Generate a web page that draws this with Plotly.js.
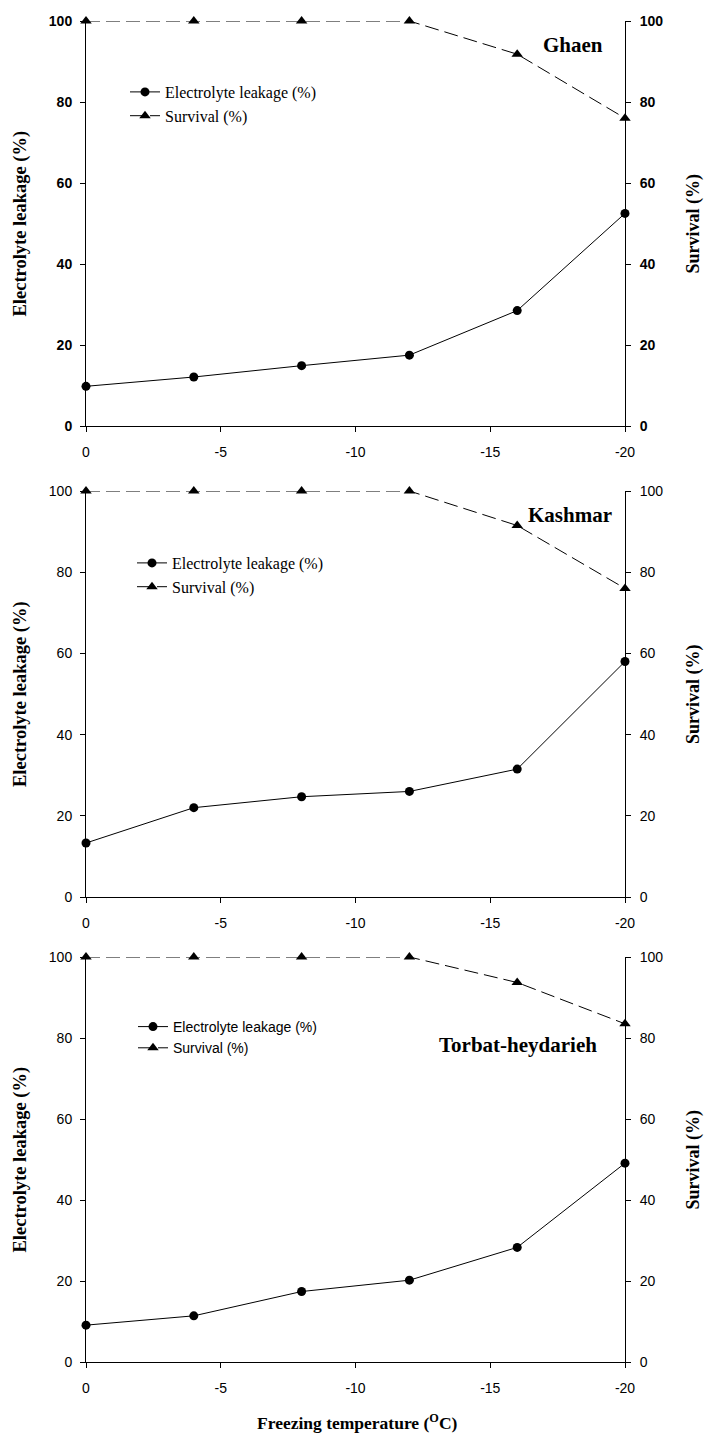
<!DOCTYPE html>
<html><head><meta charset="utf-8">
<script src="https://cdn.plot.ly/plotly-3.0.1.min.js"></script>
<style>body{margin:0;background:#fff}#c{width:704px;height:1439px}</style>
</head><body><div id="c"></div>
<script>
const temps = [0, -4, -8, -12, -16, -20];
const xTickVals = [0, -5, -10, -15, -20];
const xTickText = ["0", "-5", "-10", "-15", "-20"];
const sites = ["Ghaen", "Kashmar", "Torbat-heydarieh"];
const leakGhaen = [9.8, 12.1, 14.9, 17.5, 28.5, 52.5];
const survGhaen = [100, 100, 100, 100, 91.8, 76];
const leakKashmar = [13.3, 22, 24.7, 26, 31.5, 58];
const survKashmar = [100, 100, 100, 100, 91.5, 76];
const leakTorbat = [9.1, 11.4, 17.4, 20.2, 28.3, 49.1];
const survTorbat = [100, 100, 100, 100, 93.7, 83.5];
const leakName = "Electrolyte leakage (%)";
const survName = "Survival (%)";

const H = 1439, W = 704;
const SERIF = "Liberation Serif, Times New Roman, serif";
const SANS = "Liberation Sans, Arial, sans-serif";
const panels = [
  {leak: leakGhaen, surv: survGhaen, top: 21, bot: 426, bold: true, leg: {x: 125, y: 75, font: SERIF, size: 16}, lab: {x: 573, y: 45}},
  {leak: leakKashmar, surv: survKashmar, top: 491, bot: 897, bold: false, leg: {x: 132, y: 546, font: SERIF, size: 16}, lab: {x: 570, y: 515}},
  {leak: leakTorbat, surv: survTorbat, top: 957, bot: 1362, bold: false, leg: {x: 133, y: 1011, font: SANS, size: 14}, lab: {x: 518, y: 1045}}
];
const xd = [86 / W, 625 / W];
const traces = [];
const layout = {
  width: W, height: H, margin: {l: 0, r: 0, t: 0, b: 0},
  paper_bgcolor: "#fff", plot_bgcolor: "#fff", showlegend: true,
  annotations: [], font: {family: SANS, color: "#000"}
};
panels.forEach((p, i) => {
  const n = i === 0 ? "" : String(2 * i + 1);
  const n2 = String(2 * i + 2);
  const xn = i === 0 ? "" : String(i + 1);
  const legKey = i === 0 ? "legend" : "legend" + (i + 1);
  const dom = [1 - p.bot / H, 1 - p.top / H];
  const tf = {family: SANS, size: 14, color: "#000", weight: p.bold ? "bold" : "normal"};
  traces.push({x: temps, y: p.leak, name: leakName, type: "scatter", mode: "lines+markers",
    xaxis: "x" + xn, yaxis: "y" + n, legend: legKey, cliponaxis: false,
    line: {color: "#000", width: 1}, marker: {symbol: "circle", size: 9, color: "#000"}});
  traces.push({x: temps, y: p.surv, name: survName, type: "scatter", mode: "lines+markers",
    xaxis: "x" + xn, yaxis: "y" + n2, legend: legKey, cliponaxis: false,
    line: {color: "#000", width: 1, dash: "14px,6px"}, marker: {symbol: "triangle-up", size: 10, color: "#000"}});
  const ax = {showgrid: false, zeroline: false, showline: true, linecolor: "#000", linewidth: 1,
    ticks: "outside", ticklen: 5, tickcolor: "#000", tickfont: tf};
  layout["xaxis" + xn] = Object.assign({}, ax, {domain: xd, range: [0, -20], tickvals: xTickVals, ticktext: xTickText,
    anchor: "y" + n, ticklabelstandoff: 8, tickfont: Object.assign({}, tf, {weight: "normal"})});
  layout["yaxis" + n] = Object.assign({}, ax, {domain: dom, range: [0, 100], dtick: 20, anchor: "x" + xn, ticklabelstandoff: 5});
  layout["yaxis" + n2] = Object.assign({}, ax, {domain: dom, range: [0, 100], dtick: 20, side: "right",
    overlaying: "y" + n, anchor: "x" + xn, ticklabelstandoff: 6});
  layout[legKey] = {x: p.leg.x / W, y: 1 - p.leg.y / H, xanchor: "left", yanchor: "top", bgcolor: "rgba(0,0,0,0)",
    font: {family: p.leg.font, size: p.leg.size, color: "#000"}, tracegroupgap: 0};
  const mid = 1 - (p.top + p.bot) / 2 / H;
  layout.annotations.push({text: leakName, xref: "paper", yref: "paper", x: 20 / W, y: mid, textangle: -90,
    showarrow: false, xanchor: "center", yanchor: "middle",
    font: {family: SERIF, size: 18.5, weight: "bold", color: "#000"}});
  layout.annotations.push({text: survName, xref: "paper", yref: "paper", x: 693 / W, y: mid, textangle: -90,
    showarrow: false, xanchor: "center", yanchor: "middle",
    font: {family: SERIF, size: 18, weight: "bold", color: "#000"}});
  layout.annotations.push({text: sites[i], xref: "paper", yref: "paper", x: p.lab.x / W, y: 1 - p.lab.y / H,
    showarrow: false, xanchor: "center", yanchor: "middle",
    font: {family: SERIF, size: 21, weight: "bold", color: "#000"}});
});
layout.annotations.push({text: "Freezing temperature (<sup>O</sup>C)", xref: "paper", yref: "paper",
  x: 357 / W, y: 1 - 1422 / H, showarrow: false, xanchor: "center", yanchor: "middle",
  font: {family: SERIF, size: 17.5, weight: "bold", color: "#000"}});
Plotly.newPlot("c", traces, layout, {displayModeBar: false, staticPlot: true});
</script></body></html>
